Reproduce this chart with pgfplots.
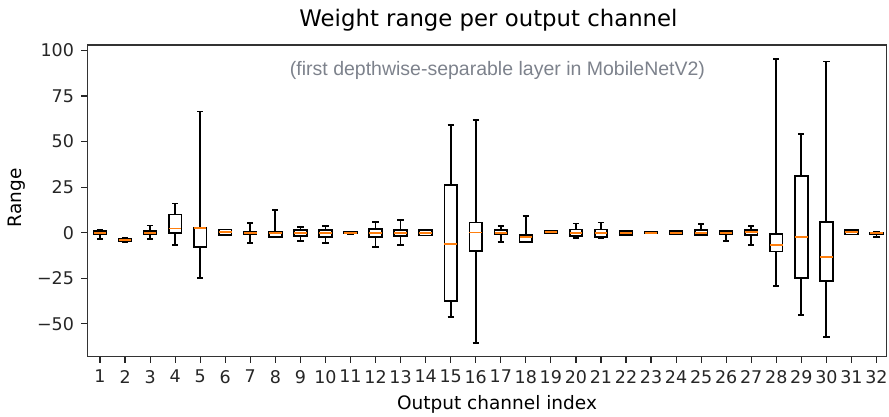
\documentclass[border=0pt]{standalone}
\usepackage{fontspec}
\setmainfont{DejaVu Sans}
\newfontfamily\subfont{Liberation Sans}
\usepackage{pgfplots}
\pgfplotsset{compat=1.18}
\usepgfplotslibrary{statistics}

\definecolor{mplorange}{RGB}{255,127,14}
\definecolor{subgray}{RGB}{125,130,140}

\pgfplotsset{
  bx/.style={black, line width=1.8pt, solid,
    boxplot prepared={#1}},
}

\begin{document}
\begin{tikzpicture}
\useasboundingbox (-87.5pt,-59.3pt) rectangle (801.5pt,356.7pt);
\begin{axis}[
  scale only axis,
  width=799pt, height=311.7pt,
  xmin=0.5, xmax=32.4,
  ymin=-68, ymax=103,
  xtick={1,...,32},
  ytick={-50,-25,0,25,50,75,100},
  yticklabels={−50,−25,0,25,50,75,100},
  tick align=outside,
  major tick length=6pt,
  tick style={black!85, line width=1.2pt},
  xtick pos=bottom, ytick pos=left,
  axis line style={black!80, line width=1.5pt},
  /pgf/number format/assume math mode=true,
  ticklabel style={font=\fontsize{17.5}{20}\selectfont, text=black!85},
  xticklabel style={yshift=-4pt, inner xsep=0pt},
  yticklabel style={xshift=-4pt},
  clip=false,
  boxplot/draw direction=y,
  boxplot/box extend=0.5,
  boxplot/whisker extend=0.25,
  boxplot/every box/.style={draw=black, line width=1.8pt},
  boxplot/every whisker/.style={draw=black, line width=1.8pt},
  boxplot/every median/.style={draw=mplorange, line width=1.6pt},
]
% draw position, lower whisker, lower quartile, median, upper quartile, upper whisker
\addplot[bx={draw position=1, lower whisker=-3.5, lower quartile=-1, median=0, upper quartile=1, upper whisker=1.5}] coordinates {};
\addplot[bx={draw position=2, lower whisker=-5, lower quartile=-4.5, median=-4, upper quartile=-3.5, upper whisker=-3}] coordinates {};
\addplot[bx={draw position=3, lower whisker=-3.5, lower quartile=-1, median=0, upper quartile=1, upper whisker=4}] coordinates {};
\addplot[bx={draw position=4, lower whisker=-6.5, lower quartile=-0.3, median=2.4, upper quartile=10, upper whisker=16}] coordinates {};
\addplot[bx={draw position=5, lower whisker=-25, lower quartile=-8, median=2.5, upper quartile=2.8, upper whisker=66.5}] coordinates {};
\addplot[bx={draw position=6, lower whisker=-1.3, lower quartile=-1.3, median=0.5, upper quartile=1.8, upper whisker=1.8}] coordinates {};
\addplot[bx={draw position=7, lower whisker=-5.8, lower quartile=-0.5, median=0, upper quartile=0.5, upper whisker=5.3}] coordinates {};
\addplot[bx={draw position=8, lower whisker=-2.5, lower quartile=-2.5, median=-0.3, upper quartile=0.5, upper whisker=12.3}] coordinates {};
\addplot[bx={draw position=9, lower whisker=-4.5, lower quartile=-2, median=0, upper quartile=1.5, upper whisker=3}] coordinates {};
\addplot[bx={draw position=10, lower whisker=-5.8, lower quartile=-2.5, median=0, upper quartile=1.5, upper whisker=3.5}] coordinates {};
\addplot[bx={draw position=11, lower whisker=-0.5, lower quartile=-0.3, median=0, upper quartile=0.3, upper whisker=0.5}] coordinates {};
\addplot[bx={draw position=12, lower whisker=-8, lower quartile=-2.5, median=0, upper quartile=2, upper whisker=6}] coordinates {};
\addplot[bx={draw position=13, lower whisker=-6.6, lower quartile=-2, median=0, upper quartile=1.5, upper whisker=6.8}] coordinates {};
\addplot[bx={draw position=14, lower whisker=-1.5, lower quartile=-1.5, median=0, upper quartile=1.5, upper whisker=1.5}] coordinates {};
\addplot[bx={draw position=15, lower whisker=-46, lower quartile=-37.5, median=-6.3, upper quartile=26, upper whisker=59}] coordinates {};
\addplot[bx={draw position=16, lower whisker=-60.6, lower quartile=-10.2, median=0.2, upper quartile=5.6, upper whisker=62}] coordinates {};
\addplot[bx={draw position=17, lower whisker=-5, lower quartile=-0.8, median=0, upper quartile=1.4, upper whisker=3.8}] coordinates {};
\addplot[bx={draw position=18, lower whisker=-5, lower quartile=-4.9, median=-2.3, upper quartile=-1.3, upper whisker=9}] coordinates {};
\addplot[bx={draw position=19, lower whisker=-0.4, lower quartile=-0.4, median=0.5, upper quartile=1.2, upper whisker=1.2}] coordinates {};
\addplot[bx={draw position=20, lower whisker=-2.9, lower quartile=-1.6, median=0, upper quartile=1.8, upper whisker=5.1}] coordinates {};
\addplot[bx={draw position=21, lower whisker=-2.9, lower quartile=-2.5, median=0, upper quartile=1.8, upper whisker=5.6}] coordinates {};
\addplot[bx={draw position=22, lower whisker=-1.4, lower quartile=-1.4, median=0, upper quartile=1, upper whisker=1}] coordinates {};
\addplot[bx={draw position=23, lower whisker=-0.3, lower quartile=-0.2, median=0, upper quartile=0.2, upper whisker=0.3}] coordinates {};
\addplot[bx={draw position=24, lower whisker=-1, lower quartile=-1, median=0, upper quartile=1, upper whisker=1}] coordinates {};
\addplot[bx={draw position=25, lower whisker=-1.5, lower quartile=-1.3, median=0, upper quartile=1.5, upper whisker=5}] coordinates {};
\addplot[bx={draw position=26, lower whisker=-4.5, lower quartile=-1, median=0, upper quartile=0.8, upper whisker=0.8}] coordinates {};
\addplot[bx={draw position=27, lower whisker=-6.6, lower quartile=-1.3, median=0.5, upper quartile=1.7, upper whisker=3.8}] coordinates {};
\addplot[bx={draw position=28, lower whisker=-29, lower quartile=-10.3, median=-6.7, upper quartile=-0.5, upper whisker=95.2}] coordinates {};
\addplot[bx={draw position=29, lower whisker=-45, lower quartile=-24.8, median=-2.3, upper quartile=31, upper whisker=54}] coordinates {};
\addplot[bx={draw position=30, lower whisker=-57, lower quartile=-26.4, median=-13.3, upper quartile=5.8, upper whisker=94}] coordinates {};
\addplot[bx={draw position=31, lower whisker=-1, lower quartile=-1, median=0.5, upper quartile=1.5, upper whisker=1.5}] coordinates {};
\addplot[bx={draw position=32, lower whisker=-2.5, lower quartile=-1, median=0, upper quartile=0, upper whisker=0.5}] coordinates {};
\end{axis}
\node[anchor=base, font=\fontsize{22.8}{26}\selectfont] at (401pt,329.7pt) {Weight range per output channel};
\node[anchor=base, text=subgray, font=\subfont\fontsize{19.5}{22}\selectfont] at (410pt,281.7pt) {(first depthwise-separable layer in MobileNetV2)};
\node[anchor=base, font=\fontsize{18.5}{22}\selectfont] at (409.5pt,-52.3pt) {Output channel index};
\node[anchor=base, rotate=90, font=\fontsize{18.5}{22}\selectfont] at (-65.5pt,159pt) {Range};
\end{tikzpicture}
\end{document}
